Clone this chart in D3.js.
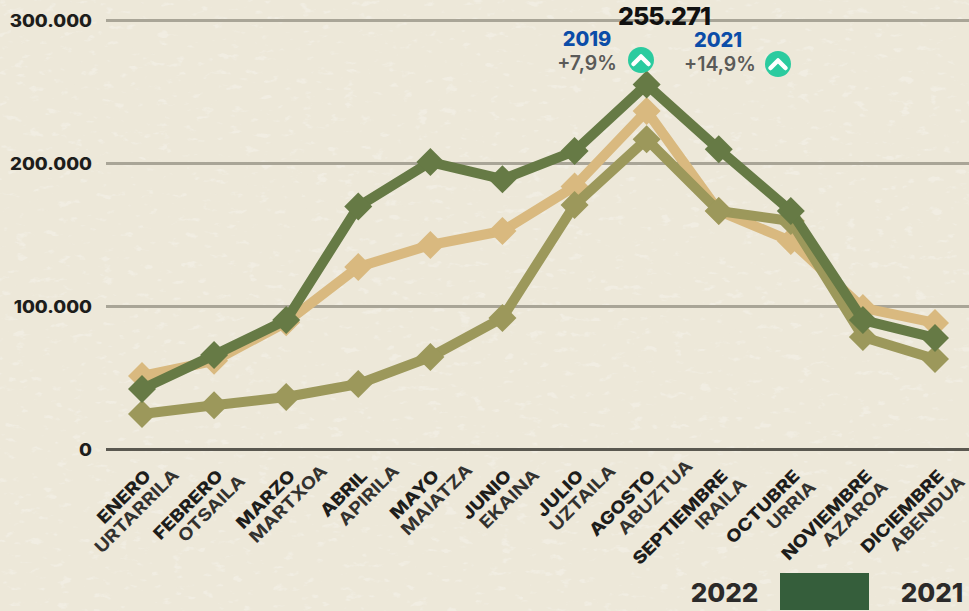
<!DOCTYPE html>
<html><head><meta charset="utf-8">
<script src="https://cdn.jsdelivr.net/npm/d3@7/dist/d3.min.js"></script>
<style>html,body{margin:0;padding:0;background:#EDE8D9;overflow:hidden}svg{display:block}text{font-family:Inter,"Open Sans",sans-serif}</style>
</head><body><svg id="c" width="969" height="611"></svg>
<script>
const monthsEs=["ENERO","FEBRERO","MARZO","ABRIL","MAYO","JUNIO","JULIO","AGOSTO","SEPTIEMBRE","OCTUBRE","NOVIEMBRE","DICIEMBRE"];
const monthsEu=["URTARRILA","OTSAILA","MARTXOA","APIRILA","MAIATZA","EKAINA","UZTAILA","ABUZTUA","IRAILA","URRIA","AZAROA","ABENDUA"];
const euShift=[38,32,42,42,43,38,42,47,29,26,26,31];
const values2022=[42300,66000,90500,170000,201000,189000,208700,255271,210000,166800,90500,78000];
const values2021=[51400,62000,89000,127600,143000,152800,184000,236700,166800,145800,99000,88500];
const values2019=[24800,31000,36700,45800,64700,92000,171000,217000,166800,159800,78700,63300];
const yTicks=[0,100000,200000,300000];
const fmt=v=>v===0?"0":d3.format(",")(v).replace(/,/g,".");
const svg=d3.select("#c");
const defs=svg.append("defs");
const f=defs.append("filter").attr("id","tex").attr("x",0).attr("y",0).attr("width","100%").attr("height","100%");
f.append("feTurbulence").attr("type","fractalNoise").attr("baseFrequency","0.07 0.13").attr("numOctaves",3).attr("seed",11);
f.append("feColorMatrix").attr("values","0 0 0 0 0.894  0 0 0 0 0.871  0 0 0 0 0.800  7 0 0 0 -4.5");
svg.append("rect").attr("width",969).attr("height",611).attr("fill","#EDE8D9");
svg.append("rect").attr("width",969).attr("height",611).attr("filter","url(#tex)").attr("opacity",0.7);

const x=d3.scalePoint().domain(monthsEs).range([142,935]);
const y=d3.scaleLinear().domain([0,300000]).range([449.5,20.5]);

const g=svg.append("g");
g.selectAll("line.g").data(yTicks).join("line").attr("class","g")
 .attr("x1",106).attr("x2",969).attr("y1",d=>y(d)).attr("y2",d=>y(d))
 .attr("stroke",d=>d===0?"#5A5850":"#A9A597").attr("stroke-width",3);
g.selectAll("text.y").data(yTicks).join("text").attr("class","y")
 .attr("text-anchor","end").attr("font-size",17).attr("font-weight",800).attr("fill","#1d1d1b")
 .attr("transform",d=>`translate(92,${y(d)+6}) scale(1.1,1)`).text(fmt);

const series=[{v:values2021,c:"#D9B97F"},{v:values2019,c:"#9C985B"},{v:values2022,c:"#667A45"}];
const line=d3.line().x((d,i)=>x(monthsEs[i])).y(d=>y(d));
const diamond=d3.symbol().type(d3.symbolSquare).size(2*14*14);
series.forEach(s=>{
  const gg=svg.append("g");
  gg.append("path").attr("d",line(s.v)).attr("fill","none").attr("stroke",s.c).attr("stroke-width",10).attr("stroke-linejoin","round");
  gg.selectAll("path.m").data(s.v).join("path").attr("class","m").attr("d",diamond).attr("fill",s.c)
   .attr("transform",(d,i)=>`translate(${x(monthsEs[i])},${y(d)}) rotate(45)`);
});

const xl=svg.append("g");
xl.selectAll("text.es").data(monthsEs).join("text").attr("class","es")
 .attr("text-anchor","end").attr("font-size",17).attr("font-weight",800).attr("fill","#1d1d1b")
 .attr("transform",d=>`translate(${x(d)+10},477) rotate(-45) scale(1.16,1)`).text(d=>d);
xl.selectAll("text.eu").data(monthsEu).join("text").attr("class","eu")
 .attr("text-anchor","end").attr("font-size",17).attr("font-weight",700).attr("fill","#33322f")
 .attr("transform",(d,i)=>`translate(${x(monthsEs[i])+euShift[i]},${514-euShift[i]}) rotate(-45) scale(1.16,1)`).text(d=>d);

svg.append("text").attr("x",664).attr("y",25).attr("text-anchor","middle").attr("font-size",25).attr("font-weight",800).attr("letter-spacing","-0.9px").attr("fill","#111").text(fmt(d3.max(values2022)));

const notes=[{yr:"2019",pct:"+7,9%",cx:587,tx:587,by:46,py:70,ix:641,iy:60},{yr:"2021",pct:"+14,9%",cx:718,tx:720,by:47,py:71,ix:778,iy:64}];
notes.forEach(n=>{
  svg.append("text").attr("x",n.cx).attr("y",n.by).attr("text-anchor","middle").attr("font-size",20).attr("font-weight",800).attr("fill","#0B4DA8").text(n.yr);
  svg.append("text").attr("x",n.tx).attr("y",n.py).attr("text-anchor","middle").attr("font-size",19.5).attr("font-weight",600).attr("fill","#5A5A58").text(n.pct);
  svg.append("circle").attr("cx",n.ix).attr("cy",n.iy).attr("r",13).attr("fill","#2BCB9F");
  svg.append("path").attr("d",`M${n.ix-7.5},${n.iy+4}L${n.ix},${n.iy-3.5}L${n.ix+7.5},${n.iy+4}`).attr("fill","none").attr("stroke","#fff").attr("stroke-width",4.5).attr("stroke-linecap","round").attr("stroke-linejoin","round");
});

svg.append("text").attr("x",724.5).attr("y",602).attr("text-anchor","middle").attr("font-size",26).attr("font-weight",800).attr("fill","#2b2a29").text("2022");
svg.append("rect").attr("x",780).attr("y",573).attr("width",89).attr("height",37).attr("fill","#355E3B");
svg.append("text").attr("x",932).attr("y",602).attr("text-anchor","middle").attr("font-size",26).attr("font-weight",800).attr("fill","#2b2a29").text("2021");
</script></body></html>
